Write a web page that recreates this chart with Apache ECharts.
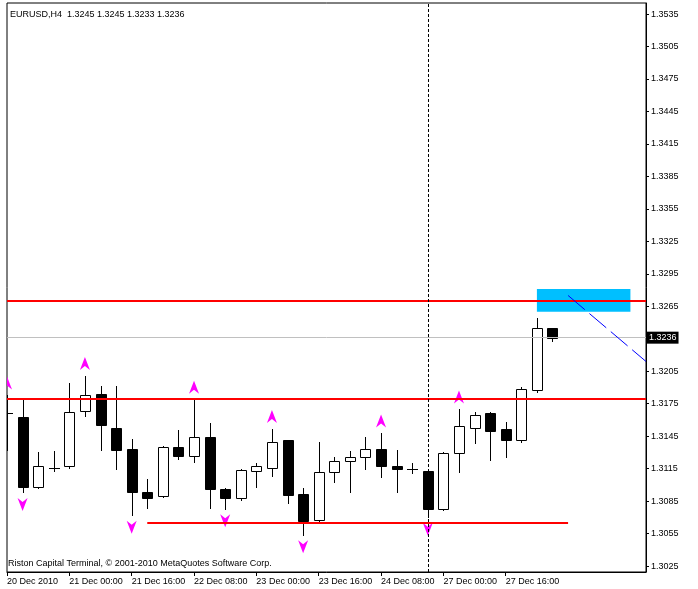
<!DOCTYPE html>
<html>
<head>
<meta charset="utf-8">
<script src="https://cdn.jsdelivr.net/npm/echarts@6/dist/echarts.min.js"></script>
<style>
html,body{margin:0;padding:0;background:#fff;}
#c{width:698px;height:589px;}
</style>
</head>
<body>
<div id="c"></div>
<script>
// ---- data ----
const symbolName = 'EURUSD,H4';
const copyright = 'Riston Capital Terminal, © 2001-2010 MetaQuotes Software Corp.';
const categories = [
  '20 Dec 2010','20 Dec 12:00','20 Dec 16:00','20 Dec 20:00',
  '21 Dec 00:00','21 Dec 04:00','21 Dec 08:00','21 Dec 12:00',
  '21 Dec 16:00','21 Dec 20:00','22 Dec 00:00','22 Dec 04:00',
  '22 Dec 08:00','22 Dec 12:00','22 Dec 16:00','22 Dec 20:00',
  '23 Dec 00:00','23 Dec 04:00','23 Dec 08:00','23 Dec 12:00',
  '23 Dec 16:00','23 Dec 20:00','24 Dec 00:00','24 Dec 04:00',
  '24 Dec 08:00','24 Dec 12:00','24 Dec 16:00','26 Dec 20:00',
  '27 Dec 00:00','27 Dec 04:00','27 Dec 08:00','27 Dec 12:00',
  '27 Dec 16:00','27 Dec 20:00','28 Dec 00:00','28 Dec 04:00',
  '28 Dec 08:00','28 Dec 12:00','28 Dec 16:00','28 Dec 20:00',
  '29 Dec 00:00','29 Dec 04:00'
];
const lastLabelIndex = 32;
const opens  = [1.3166,1.3163,1.3098,1.3116,1.3117,1.3168,1.3184,1.3153,1.3133,1.3093,1.3090,1.3135,1.3127,1.3144,1.3096,1.3088,1.3113,1.3116,1.3141,1.3092,1.3068,1.3112,1.3122,1.3126,1.3133,1.3117,1.3115,1.3113,1.3078,1.3129,1.3153,1.3166,1.3152,1.3141,1.3188,1.3245];
const highs  = [1.3183,1.3178,1.3130,1.3131,1.3194,1.3201,1.3191,1.3191,1.3142,1.3105,1.3136,1.3151,1.3179,1.3157,1.3097,1.3115,1.3120,1.3152,1.3141,1.3097,1.3140,1.3126,1.3131,1.3144,1.3148,1.3132,1.3120,1.3113,1.3130,1.3170,1.3167,1.3167,1.3158,1.3190,1.3254,1.3245];
const lows   = [1.3132,1.3093,1.3097,1.3113,1.3116,1.3164,1.3132,1.3115,1.3072,1.3079,1.3089,1.3124,1.3121,1.3079,1.3078,1.3086,1.3098,1.3108,1.3083,1.3054,1.3065,1.3103,1.3093,1.3115,1.3107,1.3093,1.3111,1.3070,1.3077,1.3112,1.3139,1.3123,1.3126,1.3140,1.3186,1.3233];
const closes = [1.3166,1.3098,1.3117,1.3116,1.3167,1.3183,1.3155,1.3132,1.3093,1.3088,1.3135,1.3127,1.3144,1.3096,1.3088,1.3114,1.3117,1.3140,1.3091,1.3067,1.3112,1.3122,1.3126,1.3133,1.3117,1.3115,1.3115,1.3078,1.3129,1.3154,1.3165,1.3150,1.3141,1.3189,1.3245,1.3236];
const fractalUp = [0,5,12,17,24,29];
const fractalDown = [1,8,14,19,27];
const horizontalLevels = [1.3270, 1.3180];
const supportSegment = [[9, 1.3065],[36, 1.3065]];
const trendRay = [[36, 1.3275],[41, 1.3214]];
const zoneBox = [[34, 1.3281],[40, 1.3260]];
const verticalMarker = 27;
const yTickValues = [1.3025,1.3055,1.3085,1.3115,1.3145,1.3175,1.3205,1.3235,1.3265,1.3295,1.3325,1.3355,1.3385,1.3415,1.3445,1.3475,1.3505,1.3535];
const yLabelValues = [1.3025,1.3055,1.3085,1.3115,1.3145,1.3175,1.3205,1.3265,1.3295,1.3325,1.3355,1.3385,1.3415,1.3445,1.3475,1.3505,1.3535];
const yMin = 1.30195, yMax = 1.35452;

// ---- build ----
const last = opens.length - 1;
const fmt = v => Number(v).toFixed(4);
const header = symbolName + '  ' + [opens[last], highs[last], lows[last], closes[last]].map(fmt).join(' ');
const candleRows = opens.map((o, i) => [i, o, closes[i], lows[i], highs[i]]);
const arrowRows = fractalUp.map(i => [i, highs[i], 1]).concat(fractalDown.map(i => [i, lows[i], -1]));
const FONT = 'Liberation Sans, Arial, sans-serif';
const showIdx = (i) => i % 4 === 0 && i <= lastLabelIndex;

function clipLeft(pts, L) {
  const out = [];
  const n = pts.length;
  for (let k = 0; k < n; k++) {
    const cur = pts[k], prev = pts[(k + n - 1) % n];
    const ci = cur[0] >= L, pi = prev[0] >= L;
    const cross = () => { const t = (L - prev[0]) / (cur[0] - prev[0]); return [L, prev[1] + t * (cur[1] - prev[1])]; };
    if (ci) { if (!pi) out.push(cross()); out.push(cur); }
    else if (pi) out.push(cross());
  }
  return out;
}

function renderCandle(params, api) {
  const cs = params.coordSys;
  const L = cs.x, R = cs.x + cs.width;
  const i = api.value(0), o = api.value(1), c = api.value(2), lo = api.value(3), hi = api.value(4);
  const pO = api.coord([i, o]);
  const px = Math.round(pO[0]);
  const yO = Math.round(pO[1]);
  const yC = Math.round(api.coord([i, c])[1]);
  const yL = Math.round(api.coord([i, lo])[1]);
  const yH = Math.round(api.coord([i, hi])[1]);
  const children = [];
  if (px >= L && px <= R) {
    children.push({type: 'line', shape: {x1: px + 0.5, y1: yH, x2: px + 0.5, y2: yL + 1},
      style: {stroke: '#000', lineWidth: 1}});
  }
  const bx0 = Math.max(px - 5, Math.floor(L)), bx1 = Math.min(px + 5, R);
  if (bx1 > bx0) {
    const top = Math.min(yO, yC), bot = Math.max(yO, yC);
    if (bot - top < 1) {
      children.push({type: 'line', shape: {x1: bx0, y1: top + 0.5, x2: bx1 + 1, y2: top + 0.5},
        style: {stroke: '#000', lineWidth: 1}});
    } else {
      const bull = c > o;
      children.push({type: 'rect', shape: {x: bx0 + 0.5, y: top + 0.5, width: bx1 - bx0, height: bot - top},
        style: {fill: bull ? '#fff' : '#000', stroke: '#000', lineWidth: 1}});
    }
  }
  return {type: 'group', children};
}

function renderArrow(params, api) {
  const cs = params.coordSys;
  const p = api.coord([api.value(0), api.value(1)]);
  const dir = api.value(2);
  const cx = p[0];
  let pts;
  if (dir > 0) {
    const top = p[1] - 12 - 6.5;
    pts = [[cx, top], [cx + 5, top + 13], [cx, top + 9], [cx - 5, top + 13]];
  } else {
    const top = p[1] + 12 - 6.5;
    pts = [[cx - 5, top], [cx, top + 4], [cx + 5, top], [cx, top + 13]];
  }
  pts = clipLeft(pts, cs.x);
  if (pts.length < 3) return null;
  return {type: 'polygon', shape: {points: pts}, style: {fill: '#ff00ff'}};
}

const chart = echarts.init(document.getElementById('c'), null, {renderer: 'canvas'});
chart.setOption({
  animation: false,
  backgroundColor: '#fff',
  textStyle: {fontFamily: FONT},
  title: [
    {text: header, left: 10, top: 10, padding: 0, textStyle: {fontSize: 9, fontWeight: 'normal', color: '#000', fontFamily: FONT}},
    {text: copyright, left: 8, top: 559, padding: 0, textStyle: {fontSize: 9, fontWeight: 'normal', color: '#000', fontFamily: FONT}}
  ],
  grid: {left: 7, right: 52, top: 3, bottom: 17, show: true, borderColor: '#000', borderWidth: 1, backgroundColor: '#fff'},
  xAxis: {
    type: 'category', data: categories, boundaryGap: false,
    axisLine: {show: true, lineStyle: {color: '#000', width: 1}},
    axisTick: {show: true, interval: showIdx, length: 4, lineStyle: {color: '#000'}},
    axisLabel: {interval: showIdx, align: 'left', color: '#000', fontSize: 9, margin: 5, fontFamily: FONT, hideOverlap: false},
    splitLine: {show: false}
  },
  yAxis: [
    {
      type: 'value', position: 'right', min: yMin, max: yMax, scale: true,
      axisLine: {show: true, lineStyle: {color: '#000'}},
      axisTick: {show: true, length: 3, customValues: yTickValues, lineStyle: {color: '#000'}},
      axisLabel: {customValues: yLabelValues, formatter: v => fmt(v), color: '#000', fontSize: 9, margin: 5, fontFamily: FONT},
      splitLine: {show: false}
    },
    {
      type: 'value', position: 'right', min: yMin, max: yMax, scale: true,
      axisLine: {show: false}, axisTick: {show: false}, splitLine: {show: false},
      axisLabel: {customValues: [closes[last]], formatter: v => fmt(v), color: '#fff', backgroundColor: '#000', padding: [2, 2, 1, 2], fontSize: 9, margin: 1, fontFamily: FONT}
    }
  ],
  series: [
    {
      type: 'line', data: [], z: 1, silent: true,
      markArea: {silent: true, itemStyle: {color: '#00bfff', opacity: 1},
        data: [[{coord: zoneBox[0]}, {coord: zoneBox[1]}]]},
      markLine: {silent: true, precision: 4, symbol: ['none', 'none'], label: {show: false},
        lineStyle: {color: '#c0c0c0', type: 'solid', width: 1},
        data: [{yAxis: closes[last]}]}
    },
    {
      type: 'custom', data: candleRows, z: 2, silent: true,
      encode: {x: 0, y: [1, 2, 3, 4]},
      renderItem: renderCandle
    },
    {
      type: 'line', data: [], z: 3, silent: true,
      markLine: {silent: true, precision: 4, symbol: ['none', 'none'], label: {show: false},
        data: [
          ...horizontalLevels.map(v => ({yAxis: v, lineStyle: {color: '#ff0000', width: 2, type: 'solid'}})),
          [{coord: supportSegment[0], lineStyle: {color: '#ff0000', width: 2, type: 'solid'}}, {coord: supportSegment[1]}],
          {xAxis: verticalMarker, lineStyle: {color: '#000', width: 1, type: [3, 2]}},
          [{coord: trendRay[0], lineStyle: {color: '#0000ff', width: 1, type: [22, 6]}}, {coord: trendRay[1]}]
        ]}
    },
    {
      type: 'custom', data: arrowRows, z: 4, silent: true,
      encode: {x: 0, y: 1},
      renderItem: renderArrow
    }
  ]
});
</script>
</body>
</html>
